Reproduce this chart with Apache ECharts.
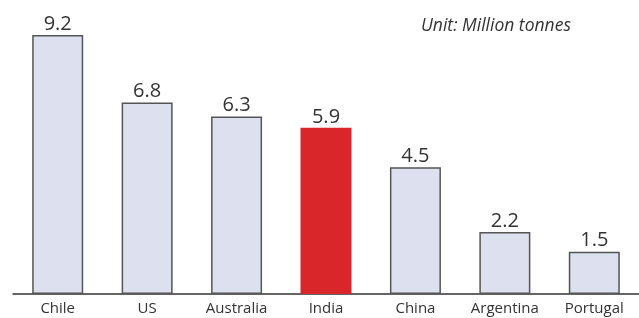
<!DOCTYPE html>
<html>
<head>
<meta charset="utf-8">
<script src="https://cdn.jsdelivr.net/npm/echarts@6/dist/echarts.min.js"></script>
<style>html,body{margin:0;padding:0;background:#fff;}#c{width:639px;height:318px;}</style>
</head>
<body>
<div id="c"></div>
<script>
const categories = ["Chile", "US", "Australia", "India", "China", "Argentina", "Portugal"];
const values = [9.2, 6.8, 6.3, 5.9, 4.5, 2.2, 1.5];
const highlight = "India";
const unitText = "Unit: Million tonnes";

const chart = echarts.init(document.getElementById('c'), null, {renderer: 'canvas'});
chart.setOption({
  animation: false,
  backgroundColor: '#ffffff',
  graphic: [{
    type: 'text', left: 421, top: 17,
    style: {text: unitText, font: 'italic 17.5px "Open Sans"', fill: '#333'}
  }],
  grid: {left: 13, width: 630, top: 0, bottom: 24},
  xAxis: {
    type: 'category', data: categories,
    axisLine: {lineStyle: {color: '#333', width: 1.5}},
    axisTick: {show: false},
    axisLabel: {color: '#333', fontSize: 15, fontFamily: 'Open Sans', margin: 7}
  },
  yAxis: {type: 'value', min: 0, max: 10.44, show: false, splitLine: {show: false}},
  series: [{
    type: 'bar', barWidth: 51,
    data: values.map((v, i) => ({
      value: v,
      itemStyle: categories[i] === highlight
        ? {color: '#d8262b', borderWidth: 0}
        : {color: '#dde1ef', borderColor: '#555', borderWidth: 1.5}
    })),
    label: {show: true, position: 'top', distance: 1, color: '#333', fontSize: 20, fontFamily: 'Open Sans',
      formatter: p => p.value.toFixed(1)}
  }]
});
</script>
</body>
</html>
